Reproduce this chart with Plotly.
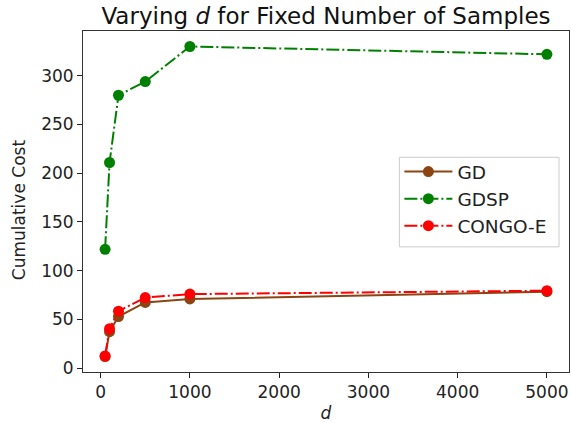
import plotly.graph_objects as go

d_values = [50, 100, 200, 500, 1000, 5000]
gd = [12, 37.5, 53, 67.5, 71, 78.5]
gdsp = [122, 211, 280, 294, 330, 322]
congo_e = [12.5, 40.5, 58.5, 72.5, 76, 79.5]

x_ticks = [0, 1000, 2000, 3000, 4000, 5000]
y_ticks = [0, 50, 100, 150, 200, 250, 300]

font = "DejaVu Sans, sans-serif"
dashdot = "13px,3px,2px,3px"

fig = go.Figure()
fig.add_trace(go.Scatter(x=d_values, y=gd, name="GD", mode="lines+markers",
                         line=dict(color="#8B4513", width=2),
                         marker=dict(color="#8B4513", size=11)))
fig.add_trace(go.Scatter(x=d_values, y=gdsp, name="GDSP", mode="lines+markers",
                         line=dict(color="#008000", width=2, dash=dashdot),
                         marker=dict(color="#008000", size=11)))
fig.add_trace(go.Scatter(x=d_values, y=congo_e, name="CONGO-E", mode="lines+markers",
                         line=dict(color="#FF0000", width=2, dash=dashdot),
                         marker=dict(color="#FF0000", size=11)))

# legend frame (matplotlib-style box)
fig.add_shape(type="rect", xref="paper", yref="paper",
              x0=0.651, x1=0.9795, y0=0.367, y1=0.6297,
              line=dict(color="#cccccc", width=1),
              fillcolor="rgba(255,255,255,0.8)", layer="above")

# y-axis title as annotation for exact placement
fig.add_annotation(text="Cumulative Cost", xref="paper", yref="paper",
                   x=-0.13, y=0.477, xanchor="center", yanchor="middle",
                   textangle=-90, showarrow=False,
                   font=dict(size=17, color="#222222"))

fig.update_layout(
    width=571, height=423,
    margin=dict(l=83, r=1, t=31, b=49),
    paper_bgcolor="white", plot_bgcolor="white",
    font=dict(family=font, size=17, color="#222222"),
    title=dict(text="Varying <i>d</i> for Fixed Number of Samples",
               x=0.5, xref="paper", xanchor="center",
               y=0.962, yref="container", yanchor="middle",
               font=dict(size=23, color="#111111")),
    showlegend=True,
    legend=dict(x=0.651, y=0.642, xanchor="left", yanchor="top",
                bgcolor="rgba(0,0,0,0)", borderwidth=0,
                font=dict(size=18.5, color="#222222"), tracegroupgap=0,
                itemwidth=48),
)
fig.update_xaxes(range=[-197.5, 5247.5], tickvals=x_ticks, ticks="outside", ticklen=5,
                 tickwidth=1, tickcolor="#222222", showline=True, linecolor="#333333",
                 linewidth=1, mirror=True, showgrid=False, zeroline=False,
                 title=dict(text="<i>d</i>", standoff=8, font=dict(size=17)))
fig.update_yaxes(range=[-3.9, 345.9], tickvals=y_ticks, ticks="outside", ticklen=5,
                 tickwidth=1, tickcolor="#222222", showline=True, linecolor="#333333",
                 linewidth=1, mirror=True, showgrid=False, zeroline=False)

fig.write_html("out.html")
